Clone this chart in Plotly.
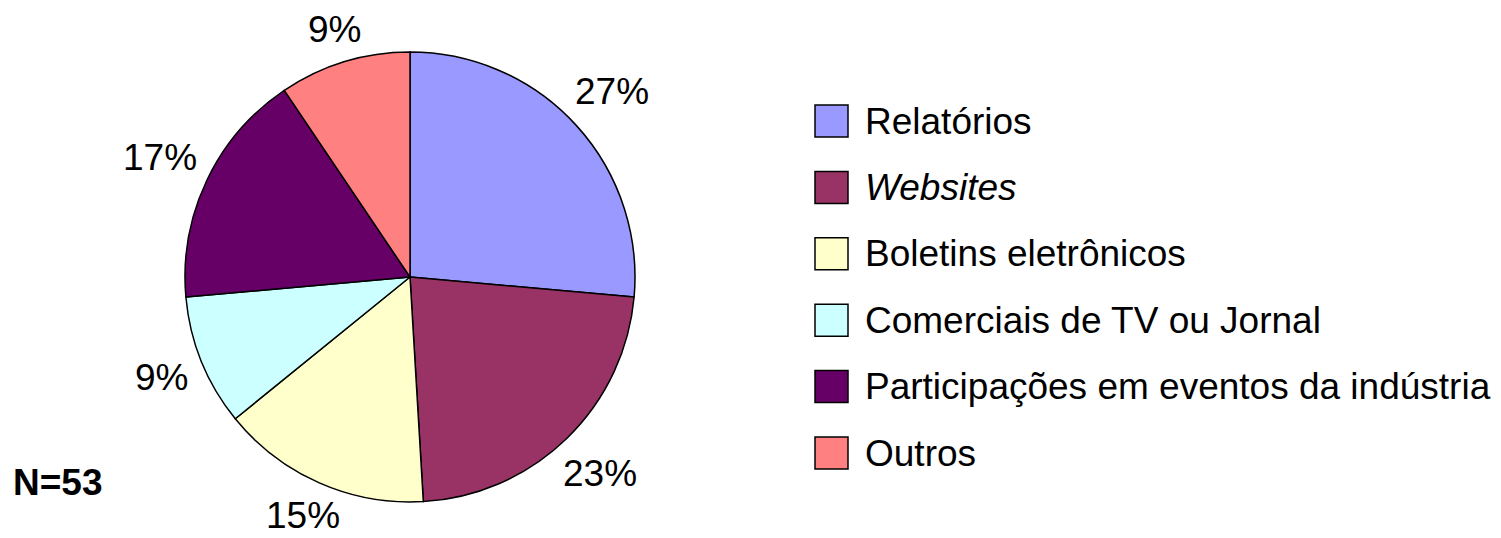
import math
import plotly.graph_objects as go

# ---- data ----
categories = ["Relatórios", "Websites", "Boletins eletrônicos",
              "Comerciais de TV ou Jornal",
              "Participações em eventos da indústria", "Outros"]
legend_labels = ["Relatórios", "<i>Websites</i>", "Boletins eletrônicos",
                 "Comerciais de TV ou Jornal",
                 "Participações em eventos da indústria", "Outros"]
counts = [14, 12, 8, 5, 9, 5]          # N = 53
pct_labels = ["27%", "23%", "15%", "9%", "17%", "9%"]
colors = ["#9999FF", "#993366", "#FFFFCC", "#CCFFFF", "#660066", "#FF8080"]
sample_note = "N=53"

# ---- layout constants ----
W, H = 1501, 538
cx, cy, r = 410, 277, 225
FONT = "Liberation Sans, Arial, Helvetica, sans-serif"
FS = 37
label_gap = 13
edge_pad = 0.62 * FS     # keep label text boxes inside the figure

fig = go.Figure(go.Pie(
    labels=categories, values=counts, text=pct_labels,
    textinfo="none",
    sort=False, direction="clockwise", rotation=0,
    marker=dict(colors=colors, line=dict(color="black", width=1.5)),
    domain=dict(x=[(cx - r) / W, (cx + r) / W],
                y=[(H - cy - r) / H, (H - cy + r) / H]),
    automargin=False, showlegend=False,
    hovertemplate="%{label}: %{text}<extra></extra>",
))

shapes, annotations = [], []

# percentage labels placed just outside each slice, along its mid-angle
total = sum(counts)
cum = 0
for v, lab in zip(counts, pct_labels):
    theta = 2 * math.pi * (cum + v / 2) / total   # clockwise from 12 o'clock
    cum += v
    s, c = math.sin(theta), math.cos(theta)
    half_w = 0.5 * FS * (0.556 * (len(lab) - 1) + 0.889)
    half_h = 0.5 * FS * 0.716
    dist = r + label_gap + half_w * abs(s) + half_h * abs(c)
    px = cx + dist * s
    py = min(max(cy - dist * c, edge_pad), H - edge_pad)
    annotations.append(dict(text=lab, xref="paper", yref="paper",
                            x=px / W, y=1 - py / H,
                            xanchor="center", yanchor="middle", showarrow=False,
                            font=dict(size=FS, color="black", family=FONT)))

# legend drawn as boxes + text
y0_leg, dy_leg = 121, 66.4
for i, (lab, col) in enumerate(zip(legend_labels, colors)):
    yc = y0_leg + dy_leg * i
    shapes.append(dict(type="rect", xref="paper", yref="paper",
                       x0=815 / W, x1=848 / W,
                       y0=1 - (yc + 16) / H, y1=1 - (yc - 16) / H,
                       fillcolor=col, line=dict(color="black", width=1.5)))
    annotations.append(dict(text=lab, xref="paper", yref="paper",
                            x=863 / W, y=1 - yc / H,
                            xanchor="left", yanchor="middle", showarrow=False,
                            font=dict(size=FS, color="black", family=FONT)))

annotations.append(dict(text=f"<b>{sample_note}</b>", xref="paper", yref="paper",
                        x=11 / W, y=1 - 482 / H, xanchor="left", yanchor="middle",
                        showarrow=False,
                        font=dict(size=FS, color="black", family=FONT)))

fig.update_layout(
    width=W, height=H,
    margin=dict(l=0, r=0, t=0, b=0),
    paper_bgcolor="white", plot_bgcolor="white",
    shapes=shapes, annotations=annotations,
    font=dict(family=FONT, size=FS, color="black"),
)

fig.write_html("out.html", config={"displayModeBar": False},
               post_script="document.body.style.margin='0px';")
